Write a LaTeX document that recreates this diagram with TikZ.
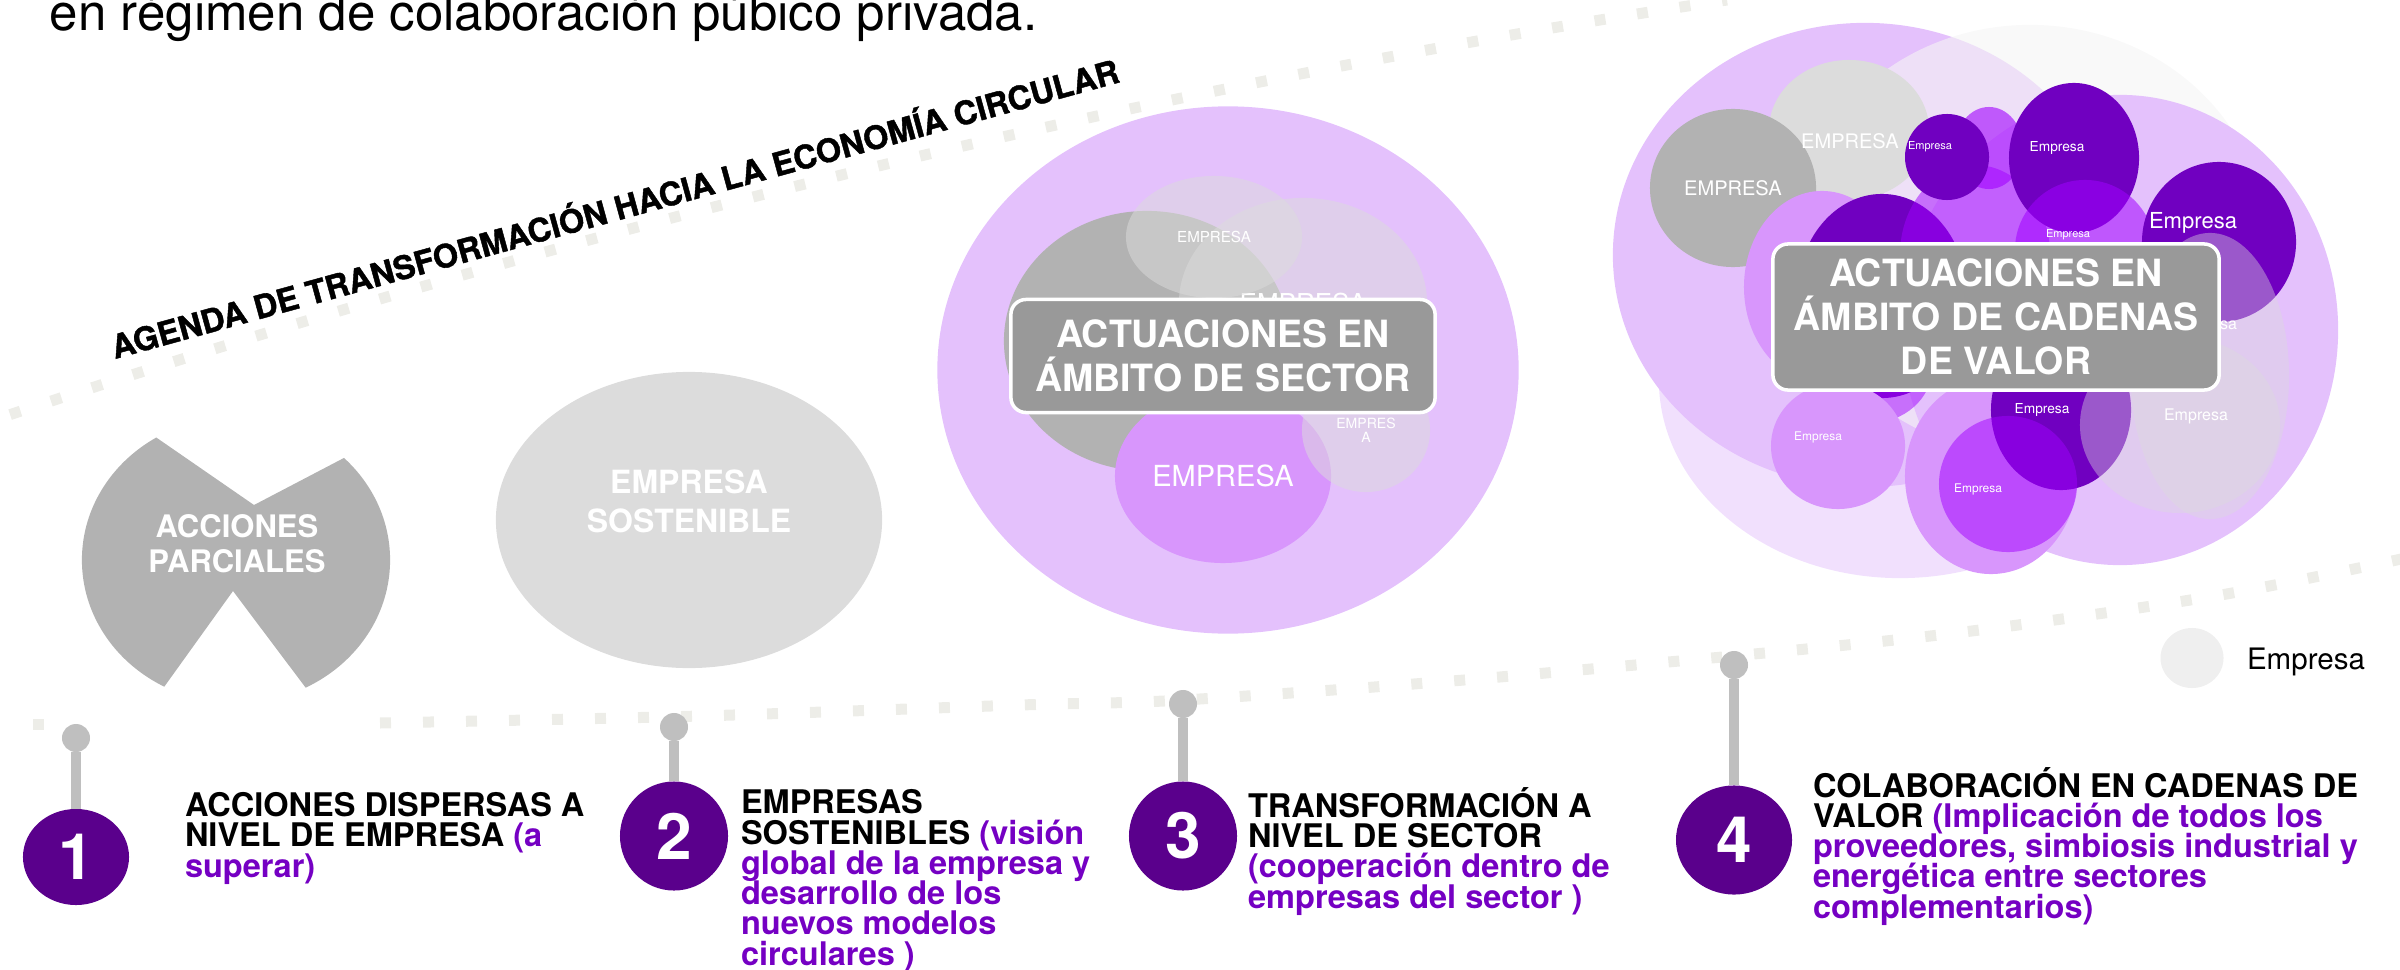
\documentclass[tikz,border=0pt]{standalone}
\usepackage{fontspec}
\setmainfont{TeX Gyre Heros}
\newfontfamily\heavyfont{texgyreheros-bold.otf}[FakeBold=1.3]
\usetikzlibrary{positioning,shapes.geometric}
\definecolor{stonegray}{RGB}{178,178,178}
\definecolor{mistgray}{RGB}{220,220,220}
\definecolor{hazegray}{RGB}{245,245,245}
\definecolor{keygray}{RGB}{239,239,239}
\definecolor{taggray}{RGB}{153,153,153}
\definecolor{dotgray}{RGB}{237,237,232}
\definecolor{pingray}{RGB}{191,191,191}
\definecolor{lavender}{RGB}{228,193,252}
\definecolor{orchid}{RGB}{216,150,252}
\definecolor{deeppurple}{RGB}{112,0,192}
\definecolor{brightpurple}{RGB}{161,0,255}
\definecolor{numpurple}{RGB}{90,0,140}
\definecolor{textpurple}{RGB}{117,0,195}
\newcommand{\pp}[1]{\textcolor{textpurple}{#1}}
\setlength{\lineskiplimit}{-20pt}

\begin{document}
\begin{tikzpicture}[x=0.01cm, y=-0.01cm,
    every node/.style={inner sep=0pt, outer sep=0pt},
    ell/.style 2 args={ellipse, minimum width=#1cm, minimum height=#2cm, text=white},
    emp/.style={font=\fontsize{#1}{#1}\selectfont, text=white},
    dots/.style={draw=dotgray, line width=3.13pt, dash pattern=on 3.13pt off 9.1pt},
    stick/.style={draw=pingray, line width=2.85pt},
    head/.style={circle, fill=pingray, minimum size=0.28cm},
    num/.style={ellipse, fill=numpurple, text=white, font=\bfseries\fontsize{18.2}{18.2}\selectfont},
    stage/.style={anchor=base west, align=left, font=\bfseries\fontsize{9.25}{8.6}\selectfont},
    tag/.style={rectangle, rounded corners=4.3pt, fill=taggray, draw=white, line width=1pt, text=white, align=center, font=\bfseries\fontsize{10.67}{12.52}\selectfont}]
  \useasboundingbox (0,0) rectangle (2400,970);

  % dotted guides
  \draw[dots, dash phase=9.2pt] (0,418) .. controls (576,226) and (1151,87) .. (1727,0);
  \draw[dots] plot[smooth] coordinates {(380,723) (700,716) (1020,705) (1183,700) (1488,678) (1913,638) (2209,597) (2420,555)};
  \fill[dotgray] (33,719) rectangle (44,730);

  \node[anchor=base west, font=\fontsize{14.5}{14.5}\selectfont] (top) at (50,31) {en régimen de colaboración púbico privada.};
  \node[anchor=base west, rotate=15.4, font=\heavyfont\fontsize{9.25}{9.25}\selectfont] (ttl) at (115,359) {AGENDA DE TRANSFORMACIÓN HACIA LA ECONOMÍA CIRCULAR};

  % stage 1
  \begin{scope}
    \clip (236,560) ellipse [x radius=1.54cm, y radius=1.43cm];
    \fill[stonegray] (50,380) -- (73,380) -- (254,505) -- (493,380) -- (520,380) -- (520,740) -- (345,740) -- (233,591) -- (126,740) -- (50,740) -- cycle;
  \end{scope}
  \node[text=white, align=center, font=\bfseries\fontsize{8.82}{9.96}\selectfont] (ap) at (237,544) {ACCIONES\\PARCIALES};

  % stage 2
  \node[ell={3.86}{2.96}, fill=mistgray] (es) at (689,520) {};
  \node[text=white, align=center, font=\bfseries\fontsize{9.1}{11.1}\selectfont] (est) at (689,501) {EMPRESA\\SOSTENIBLE};

  % stage 3
  \node[ell={5.81}{5.27}, fill=lavender] (sc) at (1228,370) {};
  \node[ell={2.86}{2.60}, fill=stonegray] (s1) at (1147,341) {};
  \node[ell={2.48}{2.10}, fill=mistgray, fill opacity=0.5, text opacity=1, emp=7.4] (s3) at (1303,303) {EMPRESA};
  \node[ell={1.76}{1.22}, fill=mistgray, fill opacity=0.5, text opacity=1, emp=4.3] (s2) at (1214,237) {EMPRESA};
  \node[ell={2.16}{1.74}, fill=orchid, emp=8.25] (s4) at (1223,476) {EMPRESA};
  \node[ell={1.28}{1.24}, fill=mistgray, fill opacity=0.5, text opacity=1, align=center, emp=4] (s5) at (1366,430) {EMPRES\\A};
  \node[tag, minimum width=4.24cm, minimum height=1.13cm] (t3) at (1223,356) {ACTUACIONES EN\\ÁMBITO DE SECTOR};

  % stage 4
  \node[ell={5.04}{4.64}, fill=lavender] (k0) at (1865,255) {};
  \node[ell={4.82}{3.96}, fill=lavender, fill opacity=0.5] (k1) at (1900,380) {};
  \node[ell={4.70}{4.30}, fill=hazegray, fill opacity=0.6] (k2) at (2030,240) {};
  \node[ell={4.36}{4.70}, fill=lavender] (k3) at (2120,330) {};
  \node[ell={1.60}{1.40}, fill=mistgray] (k4) at (1849,130) {};
  \node[ell={1.66}{1.58}, fill=stonegray, emp=5.7] (k5) at (1733,188) {EMPRESA};
  \node[emp=5.7] (k4t) at (1850,141) {EMPRESA};
  \node[ell={1.56}{1.92}, fill=orchid] (k6) at (1822,287) {};
  \node[ell={1.70}{2.04}, fill=deeppurple] (k7) at (1882,296) {};
  \node[ell={1.50}{1.80}, fill=brightpurple, fill opacity=0.5] (k8) at (1975,255) {};
  \node[ell={1.24}{1.10}, fill=brightpurple, fill opacity=0.5] (k9) at (1870,368) {};
  \node[ell={0.68}{0.82}, fill=brightpurple, fill opacity=0.6] (k10) at (1989,148) {};
  \node[ell={0.84}{0.86}, fill=deeppurple] (k11) at (1947,157) {};
  \node[emp=3.13] (k11t) at (1930,147) {Empresa};
  \node[ell={1.30}{1.50}, fill=deeppurple] (k12) at (2074,158) {};
  \node[emp=3.9] (k12t) at (2057,148) {Empresa};
  \node[ell={1.40}{1.40}, fill=brightpurple, fill opacity=0.55] (k13) at (2085,250) {};
  \node[emp=3.13] (k13t) at (2068,235) {Empresa};
  \node[ell={1.54}{1.60}, fill=deeppurple] (k14) at (2219,242) {};
  \node[emp=6.26] (k14t) at (2193,223) {Empresa};
  \node[ell={1.58}{2.86}, fill=mistgray, fill opacity=0.4] (k15) at (2210,376) {};
  \node[emp=4.55] (k15t) at (2205,325) {Empresa};
  \node[ell={1.34}{1.26}, fill=orchid] (k16) at (1838,446) {};
  \node[emp=3.4] (k16t) at (1818,437) {Empresa};
  \node[ell={1.72}{1.96}, fill=orchid] (k17) at (1991,476) {};
  \node[ell={1.40}{1.60}, fill=deeppurple] (k18) at (2061,410) {};
  \node[emp=3.9] (k18t) at (2042,410) {Empresa};
  \node[ell={1.38}{1.36}, fill=brightpurple, fill opacity=0.5] (k19) at (2008,484) {};
  \node[emp=3.4] (k19t) at (1978,489) {Empresa};
  \node[ell={2.00}{1.76}, fill=mistgray, fill opacity=0.4] (k20) at (2180,425) {};
  \node[emp=4.55] (k20t) at (2196,416) {Empresa};
  \node[tag, minimum width=4.46cm, minimum height=1.46cm] (t4) at (1996,317) {ACTUACIONES EN\\ÁMBITO DE CADENAS\\DE VALOR};

  % legend
  \node[ell={0.63}{0.60}, fill=keygray] (key) at (2192,658) {};
  \node[anchor=base west, font=\fontsize{8.4}{8.4}\selectfont] (keyt) at (2247,669) {Empresa};

  % timeline
  \node[head] (h1) at (76,738) {};
  \node[num, minimum width=1.06cm, minimum height=0.96cm] (n1) at (76,857) {1};
  \node[head] (h2) at (674,727) {};
  \node[num, minimum width=1.08cm, minimum height=1.09cm] (n2) at (674,836) {2};
  \node[head] (h3) at (1183,704) {};
  \node[num, minimum width=1.08cm, minimum height=1.09cm] (n3) at (1183,836) {3};
  \node[head] (h4) at (1734,665) {};
  \node[num, minimum width=1.16cm, minimum height=1.09cm] (n4) at (1734,840) {4};
  \draw[stick] (h1) -- (n1);
  \draw[stick] (h2) -- (n2);
  \draw[stick] (h3) -- (n3);
  \draw[stick] (h4) -- (n4);

  \node[stage] (d1) at (185,877) {ACCIONES DISPERSAS A\\NIVEL DE EMPRESA \pp{(a}\\\pp{superar)}};
  \node[stage] (d2) at (741,965) {EMPRESAS\\SOSTENIBLES \pp{(visión}\\\pp{global de la empresa y}\\\pp{desarrollo de los}\\\pp{nuevos modelos}\\\pp{circulares )}};
  \node[stage] (d3) at (1248,908) {TRANSFORMACIÓN A\\NIVEL DE SECTOR\\\pp{(cooperación dentro de}\\\pp{empresas del sector )}};
  \node[stage] (d4) at (1813,918) {COLABORACIÓN EN CADENAS DE\\VALOR \pp{(Implicación de todos los}\\\pp{proveedores, simbiosis industrial y}\\\pp{energética entre sectores}\\\pp{complementarios)}};
\end{tikzpicture}
\end{document}
